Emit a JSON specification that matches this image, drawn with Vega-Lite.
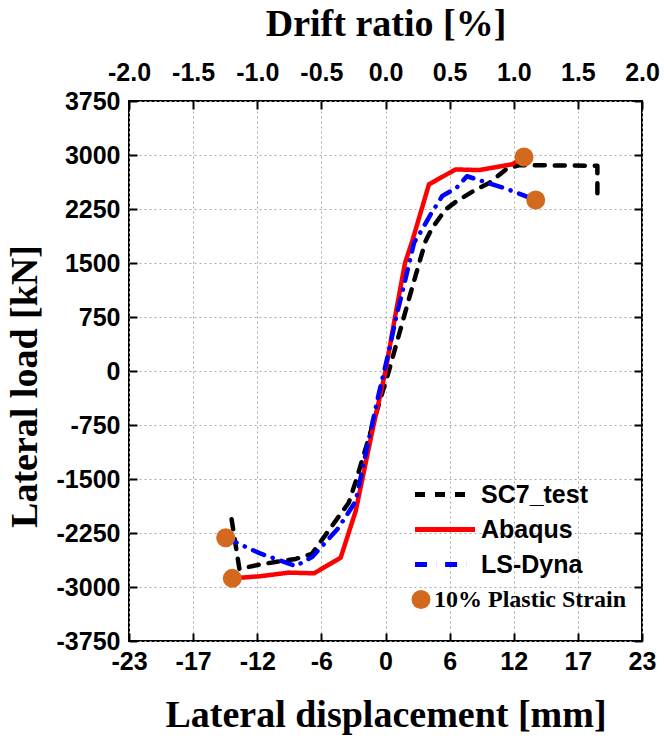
{
  "$schema": "https://vega.github.io/schema/vega-lite/v6.json",
  "width": 513,
  "height": 540,
  "autosize": {"type": "none"},
  "padding": {"left": 129, "top": 101, "right": 22, "bottom": 100},
  "background": "white",
  "config": {
    "view": {"stroke": "black", "strokeWidth": 2},
    "axis": {
      "domain": false,
      "labelFont": "Liberation Sans",
      "labelFontWeight": "bold",
      "labelFontSize": 25,
      "labelColor": "black",
      "labelOverlap": false,
      "labelBound": false,
      "labelFlush": false,
      "titleFont": "Liberation Serif",
      "titleFontWeight": "bold",
      "titleFontSize": 38,
      "titleColor": "black",
      "tickColor": "black",
      "tickWidth": 2,
      "tickSize": -8,
      "gridColor": "#aaaaaa",
      "gridDash": [2, 3],
      "gridWidth": 1,
      "gridOpacity": 1
    }
  },
  "datasets": {
    "curves": [
      {"series": "SC7_test", "i": 1, "x": -13.8, "y": -2060},
      {"series": "SC7_test", "i": 2, "x": -13.1, "y": -2750},
      {"series": "SC7_test", "i": 3, "x": -11.2, "y": -2685},
      {"series": "SC7_test", "i": 4, "x": -8.05, "y": -2610},
      {"series": "SC7_test", "i": 5, "x": -6.6, "y": -2540},
      {"series": "SC7_test", "i": 6, "x": -3.3, "y": -1830},
      {"series": "SC7_test", "i": 7, "x": -2.6, "y": -1500},
      {"series": "SC7_test", "i": 8, "x": 0.3, "y": 0},
      {"series": "SC7_test", "i": 9, "x": 2.26, "y": 1088},
      {"series": "SC7_test", "i": 10, "x": 3.16, "y": 1574},
      {"series": "SC7_test", "i": 11, "x": 3.6, "y": 1806},
      {"series": "SC7_test", "i": 12, "x": 4.2, "y": 1990},
      {"series": "SC7_test", "i": 13, "x": 5.4, "y": 2246},
      {"series": "SC7_test", "i": 14, "x": 6.4, "y": 2361},
      {"series": "SC7_test", "i": 15, "x": 8.0, "y": 2510},
      {"series": "SC7_test", "i": 16, "x": 9.3, "y": 2610},
      {"series": "SC7_test", "i": 17, "x": 10.8, "y": 2800},
      {"series": "SC7_test", "i": 18, "x": 12.0, "y": 2860},
      {"series": "SC7_test", "i": 19, "x": 19.0, "y": 2850},
      {"series": "SC7_test", "i": 20, "x": 19.0, "y": 2380},
      {"series": "Abaqus", "i": 1, "x": -13.74, "y": -2880},
      {"series": "Abaqus", "i": 2, "x": -11.2, "y": -2850},
      {"series": "Abaqus", "i": 3, "x": -8.65, "y": -2800},
      {"series": "Abaqus", "i": 4, "x": -6.41, "y": -2810},
      {"series": "Abaqus", "i": 5, "x": -4.02, "y": -2593},
      {"series": "Abaqus", "i": 6, "x": -2.67, "y": -1944},
      {"series": "Abaqus", "i": 7, "x": -1.18, "y": -833},
      {"series": "Abaqus", "i": 8, "x": 0.0, "y": 0},
      {"series": "Abaqus", "i": 9, "x": 0.9, "y": 790},
      {"series": "Abaqus", "i": 10, "x": 1.75, "y": 1500},
      {"series": "Abaqus", "i": 11, "x": 2.4, "y": 1806},
      {"series": "Abaqus", "i": 12, "x": 3.9, "y": 2593},
      {"series": "Abaqus", "i": 13, "x": 6.29, "y": 2800},
      {"series": "Abaqus", "i": 14, "x": 8.38, "y": 2790},
      {"series": "Abaqus", "i": 15, "x": 11.37, "y": 2871},
      {"series": "Abaqus", "i": 16, "x": 12.42, "y": 2972},
      {"series": "LS-Dyna", "i": 1, "x": -14.33, "y": -2315},
      {"series": "LS-Dyna", "i": 2, "x": -11.3, "y": -2530},
      {"series": "LS-Dyna", "i": 3, "x": -8.05, "y": -2710},
      {"series": "LS-Dyna", "i": 4, "x": -6.56, "y": -2580},
      {"series": "LS-Dyna", "i": 5, "x": -4.32, "y": -2199},
      {"series": "LS-Dyna", "i": 6, "x": -3.48, "y": -2004},
      {"series": "LS-Dyna", "i": 7, "x": -2.67, "y": -1806},
      {"series": "LS-Dyna", "i": 8, "x": -1.63, "y": -1042},
      {"series": "LS-Dyna", "i": 9, "x": -0.58, "y": -301},
      {"series": "LS-Dyna", "i": 10, "x": 0.31, "y": 278},
      {"series": "LS-Dyna", "i": 11, "x": 0.91, "y": 718},
      {"series": "LS-Dyna", "i": 12, "x": 1.75, "y": 1250},
      {"series": "LS-Dyna", "i": 13, "x": 2.56, "y": 1782},
      {"series": "LS-Dyna", "i": 14, "x": 3.3, "y": 1968},
      {"series": "LS-Dyna", "i": 15, "x": 4.05, "y": 2176},
      {"series": "LS-Dyna", "i": 16, "x": 5.09, "y": 2431},
      {"series": "LS-Dyna", "i": 17, "x": 6.38, "y": 2546},
      {"series": "LS-Dyna", "i": 18, "x": 7.3, "y": 2705},
      {"series": "LS-Dyna", "i": 19, "x": 9.58, "y": 2593},
      {"series": "LS-Dyna", "i": 20, "x": 10.83, "y": 2532},
      {"series": "LS-Dyna", "i": 21, "x": 13.47, "y": 2375}
    ],
    "strain": [
      {"series": "10% Plastic Strain", "x": -13.74, "y": -2880},
      {"series": "10% Plastic Strain", "x": -14.33, "y": -2315},
      {"series": "10% Plastic Strain", "x": 12.42, "y": 2972},
      {"series": "10% Plastic Strain", "x": 13.47, "y": 2375}
    ]
  },
  "layer": [
    {
      "data": {"name": "curves"},
      "mark": {"type": "line", "strokeWidth": 4.5, "strokeCap": "round", "strokeJoin": "round"},
      "encoding": {
        "x": {
          "field": "x", "type": "quantitative",
          "scale": {"domain": [-23, 23], "nice": false, "zero": false},
          "axis": {
            "orient": "bottom",
            "values": [-23, -17.25, -11.5, -5.75, 0, 5.75, 11.5, 17.25, 23],
            "labelExpr": "'' + (datum.value < 0 ? '-' + round(-datum.value) : round(datum.value))",
            "title": "Lateral displacement [mm]",
            "grid": true,
            "labelPadding": 16,
            "titlePadding": 22
          }
        },
        "y": {
          "field": "y", "type": "quantitative",
          "scale": {"domain": [-3750, 3750], "nice": false, "zero": false},
          "axis": {
            "orient": "left",
            "values": [-3750, -3000, -2250, -1500, -750, 0, 750, 1500, 2250, 3000, 3750],
            "labelExpr": "'' + datum.value",
            "title": "Lateral load [kN]",
            "titleY": 285,
            "grid": true,
            "labelPadding": 17,
            "titlePadding": 12
          }
        },
        "color": {
          "field": "series", "type": "nominal",
          "scale": {
            "domain": ["SC7_test", "Abaqus", "LS-Dyna", "10% Plastic Strain"],
            "range": ["black", "#ff0000", "#0000ff", "#D2691E"]
          },
          "legend": {
            "orient": "none", "legendX": 286, "legendY": 381, "title": null,
            "symbolType": "stroke", "symbolSize": 3600, "symbolStrokeWidth": 5,
            "labelFont": "Liberation Sans", "labelFontWeight": "bold", "labelFontSize": 25,
            "labelColor": "black", "labelOffset": 6, "rowPadding": 9, "padding": 0,
            "labelLimit": 400,
            "encode": {
              "symbols": {"update": {
                "shape": {"signal": "datum.value === '10% Plastic Strain' ? 'circle' : 'stroke'"},
                "size": {"signal": "datum.value === '10% Plastic Strain' ? 360 : 3600"},
                "fill": {"signal": "datum.value === '10% Plastic Strain' ? '#D2691E' : 'transparent'"},
                "strokeWidth": {"signal": "datum.value === '10% Plastic Strain' ? 0 : 5"},
                "x": {"signal": "datum.value === '10% Plastic Strain' ? 6 : 30"}
              }},
              "labels": {"update": {
                "font": {"signal": "datum.value === '10% Plastic Strain' ? 'Liberation Serif' : 'Liberation Sans'"},
                "fontSize": {"signal": "datum.value === '10% Plastic Strain' ? 24 : 25"},
                "x": {"signal": "datum.value === '10% Plastic Strain' ? 19 : 66"}
              }}
            }
          }
        },
        "strokeDash": {
          "field": "series", "type": "nominal",
          "scale": {
            "domain": ["SC7_test", "Abaqus", "LS-Dyna", "10% Plastic Strain"],
            "range": [[10, 10], [1, 0], [12, 9, 0.1, 9], [1, 0]]
          }
        },
        "order": {"field": "i", "type": "quantitative"}
      }
    },
    {
      "data": {"name": "strain"},
      "mark": {"type": "circle", "size": 360, "opacity": 1},
      "encoding": {
        "x": {
          "field": "x", "type": "quantitative",
          "axis": {
            "orient": "top",
            "values": [-23, -17.25, -11.5, -5.75, 0, 5.75, 11.5, 17.25, 23],
            "labelExpr": "replace(format(datum.value / 11.5, '.1f'), '\u2212', '-')",
            "title": "Drift ratio [%]",
            "grid": false,
            "labelPadding": 24,
            "titlePadding": 17
          }
        },
        "y": {
          "field": "y", "type": "quantitative",
          "axis": {
            "orient": "right",
            "values": [-3750, -3000, -2250, -1500, -750, 0, 750, 1500, 2250, 3000, 3750],
            "labels": false,
            "title": null,
            "grid": false
          }
        },
        "color": {"field": "series", "type": "nominal"}
      }
    }
  ],
  "resolve": {"axis": {"x": "independent", "y": "independent"}}
}
